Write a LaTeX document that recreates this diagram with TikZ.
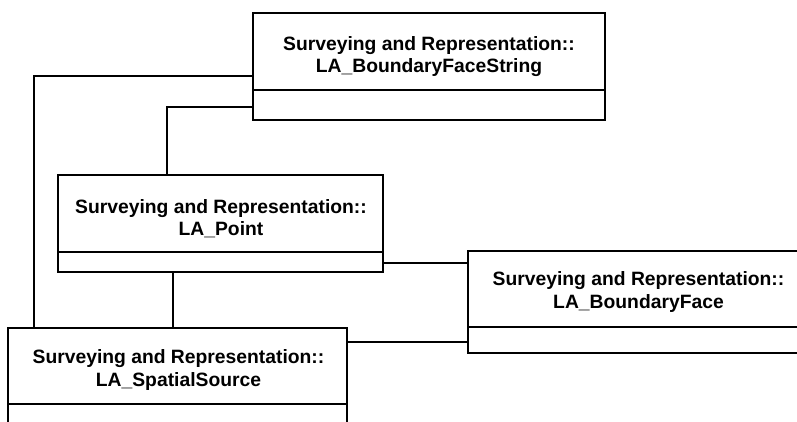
\documentclass[tikz,border=0pt]{standalone}
\usepackage{fontspec}
\setmainfont{Liberation Sans}
\tikzset{
  cls/.style={draw, rectangle, line width=1.2pt, inner sep=0pt, outer sep=0pt, anchor=north west},
  lbl/.style={font=\fontsize{19.3}{23}\selectfont\bfseries, anchor=base, inner sep=0pt},
  conn/.style={line width=1.2pt},
  divline/.style={line width=1.2pt}
}
\begin{document}
\begin{tikzpicture}[x=1pt,y=-1pt]
\clip (0,0) rectangle (797,421);
\fill[white] (0,0) rectangle (797,421);
% class boxes
\node[cls, minimum width=352pt, minimum height=107pt] (bfs) at (253,13) {};
\node[cls, minimum width=325pt, minimum height=97pt] (pt) at (58,175) {};
\node[cls, minimum width=339pt, minimum height=112pt] (ss) at (8,328) {};
\node[cls, minimum width=341pt, minimum height=102pt] (bf) at (468,251) {};
% compartment dividers
\draw[divline] ([yshift=-77pt]bfs.north west) -- ([yshift=-77pt]bfs.north east);
\draw[divline] ([yshift=-77pt]pt.north west) -- ([yshift=-77pt]pt.north east);
\draw[divline] ([yshift=-76pt]ss.north west) -- ([yshift=-76pt]ss.north east);
\draw[divline] ([yshift=-76pt]bf.north west) -- ([yshift=-76pt]bf.north east);
% labels
\node[lbl] (bfsA) at (429,50) {Surveying and Representation::};
\node[lbl] (bfsB) at (429,72.7) {LA\_BoundaryFaceString};
\node[lbl] (ptA) at (221,213) {Surveying and Representation::};
\node[lbl] (ptB) at (221,235.7) {LA\_Point};
\node[lbl] (ssA) at (178.5,363.5) {Surveying and Representation::};
\node[lbl] (ssB) at (178.5,386.7) {LA\_SpatialSource};
\node[lbl] (bfA) at (638.5,285) {Surveying and Representation::};
\node[lbl] (bfB) at (638.5,308.3) {LA\_BoundaryFace};
% connectors
\coordinate (c1) at ([yshift=-63pt]bfs.north west);
\coordinate (c1e) at ([xshift=26pt]ss.north west);
\draw[conn] (c1) -| (c1e);
\coordinate (c2) at ([yshift=-94pt]bfs.north west);
\coordinate (c2e) at ([xshift=109pt]pt.north west);
\draw[conn] (c2) -| (c2e);
\coordinate (c3) at ([xshift=115pt]pt.south west);
\draw[conn] (c3) -- (c3 |- ss.north);
\coordinate (c4) at ([yshift=-88pt]pt.north east);
\draw[conn] (c4) -- (c4 -| bf.west);
\coordinate (c5) at ([yshift=-14pt]ss.north east);
\draw[conn] (c5) -- (c5 -| bf.west);
\end{tikzpicture}
\end{document}
